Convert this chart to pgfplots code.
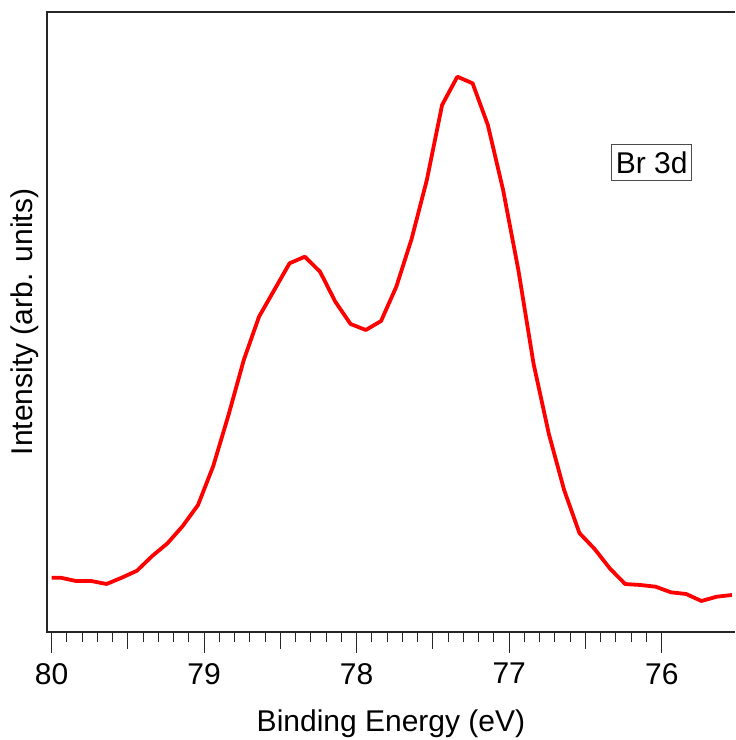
\documentclass[border=0pt]{standalone}
\usepackage{fontspec}
\setmainfont{Liberation Sans}
\usepackage{pgfplots}
\pgfplotsset{compat=1.18}
\begin{document}
\begin{tikzpicture}
\path[use as bounding box] (-23.5pt,-54pt) rectangle (344pt,316pt);
\begin{axis}[
  at={(0,0)}, anchor=south west,
  scale only axis,
  width=344pt, height=310pt,
  x dir=reverse,
  xmin=75.52, xmax=80.03,
  ymin=0, ymax=620,
  axis line style={draw=none},
  xtick={76,77,78,79,80},
  xticklabels={76,77,78,79,80},
  minor x tick num=9,
  extra x ticks={76.5,77.5,78.5,79.5},
  extra x tick labels={},
  extra x tick style={major tick length=8.5pt},
  xtick pos=bottom,
  ytick=\empty,
  tick align=outside,
  major tick length=10.5pt,
  minor tick length=5pt,
  every tick/.style={black!85, line width=0.5pt},
  /pgf/number format/assume math mode=true,
  tick label style={font=\fontsize{15}{18}\selectfont},
  xticklabel style={yshift=-1.5pt},
  label style={font=\fontsize{15}{18}\selectfont},
  xlabel={Binding Energy (eV)},
  xlabel style={at={(axis description cs:0.5,-0.1597)}, anchor=base},
  ylabel={Intensity (arb. units)},
  ylabel style={at={(axis description cs:-0.0116,0.5)}, anchor=south, inner sep=0pt},
  clip mode=individual,
]
\addplot[red, line width=1.9pt, line join=round] coordinates {
(80.00,54.3) (79.94,54.3) (79.84,51) (79.74,51) (79.64,48) (79.54,54.3)
(79.44,61.3) (79.34,76) (79.24,88.7) (79.14,106) (79.04,127) (78.94,166)
(78.84,217) (78.74,272) (78.64,315.3) (78.54,342) (78.44,368.7) (78.34,375.3)
(78.24,360.3) (78.14,330.3) (78.04,308) (77.94,302) (77.84,311) (77.74,345.3)
(77.64,393) (77.54,452) (77.44,527) (77.34,555.3) (77.24,548.7) (77.14,507)
(77.04,442) (76.94,362) (76.84,268) (76.74,198) (76.64,142) (76.54,99)
(76.44,83) (76.34,63.5) (76.24,48) (76.14,47) (76.04,45.3) (75.94,39.7)
(75.84,38) (75.74,31) (75.64,35.3) (75.54,37)
};
\draw[black!85, line width=0.8pt] (rel axis cs:1,1) -- (rel axis cs:0,1) -- (rel axis cs:0,0) -- (rel axis cs:1,0);
\node[draw=black!70, line width=0.6pt, fill=white, inner xsep=2pt, inner ysep=3.5pt,
  font=\fontsize{15}{18}\selectfont] at (rel axis cs:0.879,0.757) {Br 3d};
\end{axis}
\end{tikzpicture}
\end{document}
